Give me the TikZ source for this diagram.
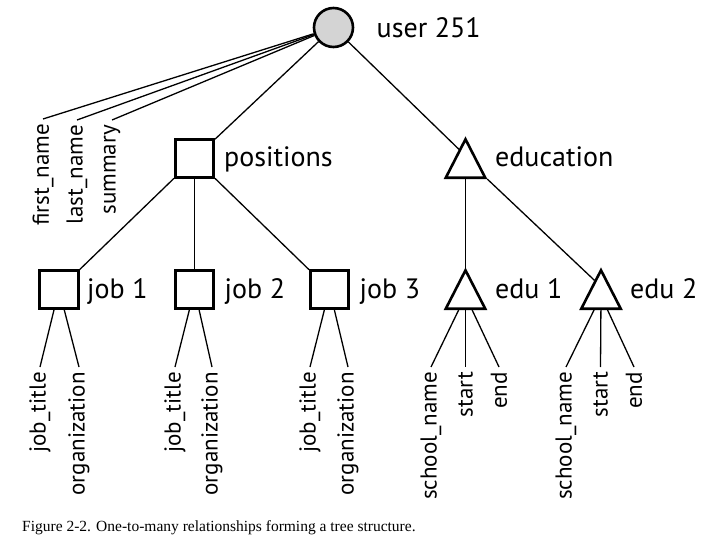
\documentclass[tikz,border=0pt]{standalone}
\usepackage{fontspec}
\setmainfont{PT Sans}
\newfontfamily\capfont{Liberation Serif}
\usetikzlibrary{shapes.geometric,calc}
\begin{document}
\begin{tikzpicture}[x=1bp,y=-1bp,
  box/.style={draw, line width=2.6bp, minimum size=38.5bp, inner sep=0pt},
  tri/.style={draw, line width=2.6bp, regular polygon, regular polygon sides=3,
    minimum size=51.3bp, inner sep=0pt, xscale=0.888},
  lbl/.style={anchor=base west, inner sep=0pt, font=\fontsize{28bp}{32bp}\selectfont},
  attr/.style={rotate=90, anchor=east, inner sep=0pt, inner xsep=5bp, font=\fontsize{23bp}{27bp}\selectfont},
  conn/.style={line width=1.3bp}]
\useasboundingbox (0,0) rectangle (720,544);
% main nodes
\node[circle, draw, line width=2.6bp, fill=black!17, minimum size=39bp, inner sep=0pt] (user) at (333.5,27.5) {};
\node[box] (pos) at (194.5,158.5) {};
\node[tri] (edu) at (465.5,164.9) {};
\node[box] (j1) at (59,289.5) {};
\node[box] (j2) at (194.5,289.5) {};
\node[box] (j3) at (329.5,289.5) {};
\node[tri] (e1) at (465.5,295.9) {};
\node[tri] (e2) at (601,295.9) {};
% labels
\node[lbl] (userl) at (376.5,38) {user 251};
\node[lbl] (posl) at (224,167) {positions};
\node[lbl] (edul) at (495,167) {education};
\node[lbl] (j1l) at (87,298) {job 1};
\node[lbl] (j2l) at (224.5,298) {job 2};
\node[lbl] (j3l) at (359.5,298) {job 3};
\node[lbl] (e1l) at (495,298) {edu 1};
\node[lbl] (e2l) at (630,298) {edu 2};
% attribute labels
\node[attr] (fn) at (43,119) {first\_name};
\node[attr] (ln) at (77,120) {last\_name};
\node[attr] (sm) at (112,120) {summary};
\node[attr] (j1t) at (40,367) {job\_title};
\node[attr] (j1o) at (79,367) {organization};
\node[attr] (j2t) at (175,367) {job\_title};
\node[attr] (j2o) at (212,367) {organization};
\node[attr] (j3t) at (310,367) {job\_title};
\node[attr] (j3o) at (348,367) {organization};
\node[attr] (e1s) at (431,367) {school\_name};
\node[attr] (e1a) at (465.5,367) {start};
\node[attr] (e1e) at (499,367) {end};
\node[attr] (e2s) at (566,367) {school\_name};
\node[attr] (e2a) at (600.5,367) {start};
\node[attr] (e2e) at (634,367) {end};
% connectors
\draw[conn] (user) -- (fn.east);
\draw[conn] (user) -- (ln.east);
\draw[conn] (user) -- (sm.east);
\draw[conn] (user) -- (pos);
\draw[conn] (user) -- ($(edu.corner 1)!0.3!(edu.corner 2)$);
\draw[conn] (pos) -- (j1);
\draw[conn] (pos) -- (j2);
\draw[conn] (pos) -- (j3);
\draw[conn] (edu) -- (e1);
\draw[conn] (edu.corner 3) -- ($(e2.corner 1)!0.3!(e2.corner 2)$);
\draw[conn] (j1) -- (j1t.east);
\draw[conn] (j1) -- (j1o.east);
\draw[conn] (j2) -- (j2t.east);
\draw[conn] (j2) -- (j2o.east);
\draw[conn] (j3) -- (j3t.east);
\draw[conn] (j3) -- (j3o.east);
\draw[conn] (e1) -- (e1s.east);
\draw[conn] (e1) -- (e1a.east);
\draw[conn] (e1) -- (e1e.east);
\draw[conn] (e2) -- (e2s.east);
\draw[conn] (e2) -- (e2a.east);
\draw[conn] (e2) -- (e2e.east);
% caption
\node[anchor=base west, inner sep=0pt, font=\capfont\fontsize{15.5bp}{18bp}\selectfont] (cap) at (22,531)
  {Figure 2-2. One-to-many relationships forming a tree structure.};
\end{tikzpicture}
\end{document}
